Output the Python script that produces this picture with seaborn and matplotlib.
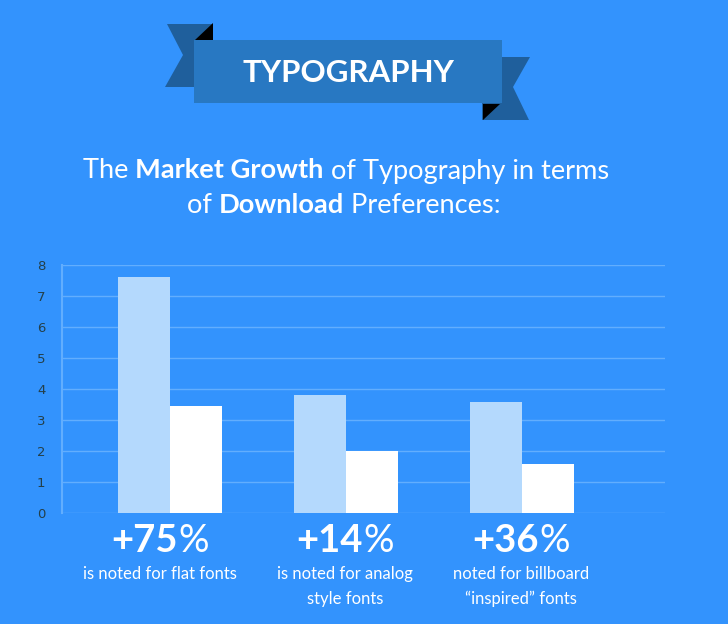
import seaborn as sns
import matplotlib
matplotlib.use("Agg")
import matplotlib.pyplot as plt
import pandas as pd
from matplotlib.patches import Polygon, Rectangle
from matplotlib.offsetbox import TextArea, HPacker, AnchoredOffsetbox

# data
categories = ["flat", "analog", "billboard"]
series_names = ["before", "after"]
light_values = [7.6, 3.8, 3.57]
white_values = [3.45, 1.98, 1.57]
y_ticks = [0, 1, 2, 3, 4, 5, 6, 7, 8]
big_labels = [("+75", "%"), ("+14", "%"), ("+36", "%")]
small_labels = [["is noted for flat fonts"],
                ["is noted for analog", "style fonts"],
                ["noted for billboard", "\u201cinspired\u201d fonts"]]

BG = "#3393fd"
LIGHT = "#b4d9fd"
GRID = "#62aefe"
FONT = "Lato"

df = pd.DataFrame({
    "category": categories * 2,
    "series": [series_names[0]] * 3 + [series_names[1]] * 3,
    "value": light_values + white_values,
})

sns.set_theme(style="white")
plt.rcParams["font.family"] = [FONT, "DejaVu Sans"]

W, H = 728, 624
fig = plt.figure(figsize=(W / 100, H / 100), dpi=100)
fig.patch.set_facecolor(BG)

# background axes in pixel coordinates for the banner and labels
bg = fig.add_axes([0, 0, 1, 1], zorder=0)
bg.set_xlim(0, W)
bg.set_ylim(H, 0)
bg.axis("off")

# ribbon banner
bg.add_patch(Polygon([(167, 24), (213, 24), (213, 87), (165, 87), (183, 55)],
                     closed=True, color="#1f5f9c", lw=0))
bg.add_patch(Polygon([(195, 40), (213, 23), (213, 40)], closed=True, color="black", lw=0))
bg.add_patch(Polygon([(482, 57), (530, 57), (513, 87), (529, 120), (482, 120)],
                     closed=True, color="#1f5f9c", lw=0))
bg.add_patch(Polygon([(483, 104), (500, 104), (483, 120)], closed=True, color="black", lw=0))
bg.add_patch(Rectangle((194, 40), 308, 63, color="#2878c2", lw=0))
bg.text(348, 73, "TYPOGRAPHY", color="white", fontsize=22.5, fontweight="bold",
        ha="center", va="center", family=[FONT, "DejaVu Sans"])


def rich_line(parts, x, y, size):
    areas = [TextArea(t, textprops=dict(color="white", fontsize=size, fontweight=w,
                                        family=[FONT, "DejaVu Sans"]))
             for t, w in parts]
    box = HPacker(children=areas, align="baseline", pad=0, sep=0)
    ab = AnchoredOffsetbox(loc="center", child=box, bbox_to_anchor=(x / W, 1 - y / H),
                           bbox_transform=fig.transFigure, frameon=False, pad=0, borderpad=0)
    bg.add_artist(ab)


rich_line([("The ", "normal"), ("Market Growth", "bold"),
           (" of Typography in terms", "normal")], 346, 171, 19.6)
rich_line([("of ", "normal"), ("Download", "bold"), (" Preferences:", "normal")], 344, 206, 19.6)

# annotations under the bars
label_x = [160, 345, 521]
for x, (num, pct), lines in zip(label_x, big_labels, small_labels):
    rich_line([(num, "bold"), (pct, "normal")], x, 541, 27.5)
    for i, line in enumerate(lines):
        bg.text(x, 574 + i * 25, line, color="white", fontsize=12, ha="center", va="center")

# bar chart
ax = fig.add_axes([62 / W, (H - 512.7) / H, (665 - 62) / W, 248 / H], zorder=1)
ax.set_facecolor("none")
sns.barplot(data=df, x="category", y="value", hue="series", palette=[LIGHT, "white"],
            width=0.59, saturation=1, legend=False, linewidth=0, ax=ax, zorder=3)
ax.set_xlim(-0.614, 2.81)
ax.set_ylim(0, 8)
ax.set_yticks(y_ticks)
ax.set_xticks([])
ax.set_xlabel("")
ax.set_ylabel("")
for y in y_ticks:
    ax.axhline(y, color=GRID, lw=1, zorder=1)
for side in ["top", "right", "bottom"]:
    ax.spines[side].set_visible(False)
ax.spines["left"].set_color(GRID)
ax.spines["left"].set_linewidth(1.5)
ax.tick_params(axis="y", length=0, pad=12, labelsize=9.5, labelcolor="#24404a")
for lab in ax.get_yticklabels():
    lab.set_family("DejaVu Sans")

fig.savefig("out.png", dpi=100, facecolor=BG)
